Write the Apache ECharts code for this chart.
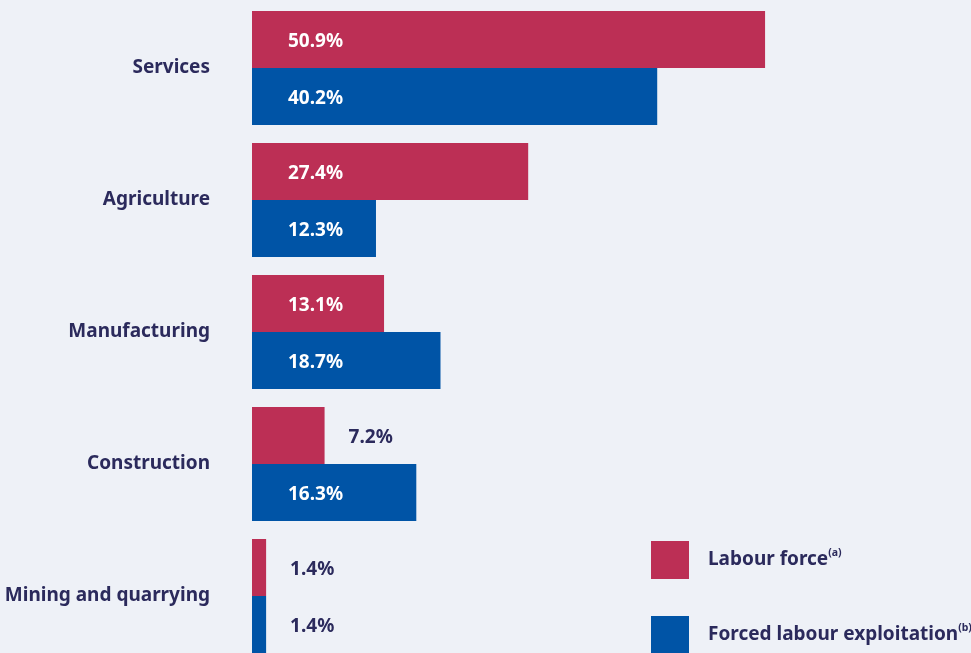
<!DOCTYPE html>
<html>
<head>
<meta charset="utf-8">
<script src="https://cdn.jsdelivr.net/npm/echarts@6/dist/echarts.min.js"></script>
<style>
html,body{margin:0;padding:0;background:#eef1f7;overflow:hidden;}
#c{width:971px;height:680px;}
</style>
</head>
<body>
<div id="c"></div>
<script>
const categories = ['Services', 'Agriculture', 'Manufacturing', 'Construction', 'Mining and quarrying'];
const labourForce = [50.9, 27.4, 13.1, 7.2, 1.4];
const forcedLabour = [40.2, 12.3, 18.7, 16.3, 1.4];
const seriesNames = ['Labour force', 'Forced labour exploitation'];
const seriesNotes = ['(a)', '(b)'];

const TXT = '#2b2a5c';
const FONT = '"Noto Sans", sans-serif';

function labelFor(values) {
  return values.map(v => {
    const px = v * 10.08;
    const inside = px > 90;
    return {
      value: v,
      label: inside
        ? { position: [36, '50%'], color: '#ffffff' }
        : { position: [Math.max(px + 24, 37), '50%'], color: TXT }
    };
  });
}

function legendFor(i, top) {
  return {
    orient: 'vertical', left: 651, top: top, padding: 0,
    itemWidth: 38, itemHeight: 38, icon: 'rect',
    data: [seriesNames[i]],
    formatter: function (name) {
      return '{n|' + name + '}{s|' + seriesNotes[i] + '}';
    },
    textStyle: {
      padding: [0, 0, 0, 14],
      rich: {
        n: { color: TXT, fontFamily: FONT, fontWeight: 'bold', fontSize: 19, lineHeight: 24 },
        s: { color: TXT, fontFamily: FONT, fontWeight: 'bold', fontSize: 10.5, verticalAlign: 'top', lineHeight: 24, padding: [0, 0, 10, 0] }
      }
    }
  };
}

const chart = echarts.init(document.getElementById('c'));
chart.setOption({
  backgroundColor: '#eef1f7',
  animation: false,
  grid: { left: 252, top: 2, width: 719, height: 660, containLabel: false },
  xAxis: {
    type: 'value', min: 0, max: 71.33,
    show: false
  },
  yAxis: {
    type: 'category', data: categories, inverse: true,
    axisLine: { show: false }, axisTick: { show: false }, splitLine: { show: false },
    axisLabel: { margin: 42, color: TXT, fontFamily: FONT, fontWeight: 'bold', fontSize: 19, padding: [8, 0, 0, 0] }
  },
  legend: [legendFor(0, 541), legendFor(1, 616)],
  series: [
    {
      name: seriesNames[0], type: 'bar', barWidth: 57, barGap: '0%',
      itemStyle: { color: '#bc2f55' },
      label: {
        show: true, align: 'left', verticalAlign: 'middle', offset: [0, 2],
        fontFamily: FONT, fontWeight: 'bold', fontSize: 19,
        formatter: p => p.value.toFixed(1) + '%'
      },
      data: labelFor(labourForce)
    },
    {
      name: seriesNames[1], type: 'bar', barWidth: 57, barGap: '0%',
      itemStyle: { color: '#0054a6' },
      label: {
        show: true, align: 'left', verticalAlign: 'middle', offset: [0, 2],
        fontFamily: FONT, fontWeight: 'bold', fontSize: 19,
        formatter: p => p.value.toFixed(1) + '%'
      },
      data: labelFor(forcedLabour)
    }
  ]
});
</script>
</body>
</html>
